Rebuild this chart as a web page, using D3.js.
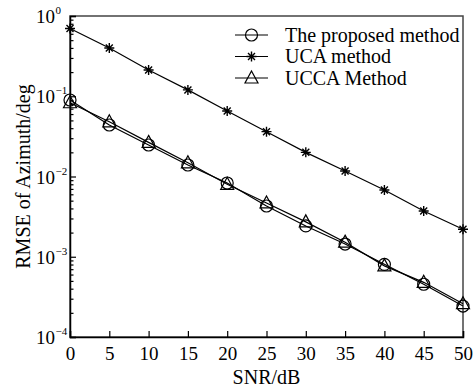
<!DOCTYPE html>
<html>
<head>
<meta charset="utf-8">
<script src="https://cdn.jsdelivr.net/npm/d3@7"></script>
<style>
  body { margin: 0; background: #fff; }
  text { font-family: "Liberation Serif", "Times New Roman", serif; fill: #000; }
</style>
</head>
<body>
<div id="chart"></div>
<script>
var snr = [0, 5, 10, 15, 20, 25, 30, 35, 40, 45, 50];
var proposed = [0.0898, 0.0438, 0.0247, 0.0139, 0.0083, 0.00429, 0.00242, 0.00144, 0.000805, 0.000454, 0.000243];
var uca = [0.70, 0.40, 0.212, 0.120, 0.0655, 0.0362, 0.0200, 0.0117, 0.00679, 0.00372, 0.00220];
var ucca = [0.083, 0.048, 0.0266, 0.0148, 0.0080, 0.00468, 0.00272, 0.00152, 0.00077, 0.00048, 0.00026];
var yDecades = [0, -1, -2, -3, -4];
var seriesNames = ['The proposed method', 'UCA method', 'UCCA Method'];

var width = 473, height = 387;
var margin = {left: 70, right: 10, top: 16, bottom: 50};

var x = d3.scaleLinear().domain([0, 50]).range([margin.left, width - margin.right]);
var y = d3.scaleLog().domain([1e-4, 1]).range([height - margin.bottom, margin.top]);

var svg = d3.select('#chart').append('svg')
    .attr('width', width)
    .attr('height', height);

// frame
svg.append('rect')
    .attr('x', x(0)).attr('y', y(1))
    .attr('width', x(50) - x(0)).attr('height', y(1e-4) - y(1))
    .attr('fill', 'none').attr('stroke', '#444').attr('stroke-width', 1.5);

// x axis
var xAxis = d3.axisBottom(x).tickValues(snr).tickSize(-6).tickPadding(10).tickFormat(d3.format('d'));
var gx = svg.append('g').attr('transform', 'translate(0,' + y(1e-4) + ')').call(xAxis);
gx.select('.domain').attr('stroke', '#000').attr('stroke-width', 1.5);
gx.selectAll('.tick line').attr('stroke', '#000').attr('stroke-width', 1.2);
gx.selectAll('.tick text').attr('font-size', 19).attr('font-family', 'Liberation Serif');

// y axis: minor ticks
var minor = [];
yDecades.slice(0, 4).forEach(function (p) {
    for (var k = 2; k <= 9; k++) minor.push(k * Math.pow(10, p - 1));
});
var yAxisMinor = d3.axisLeft(y).tickValues(minor).tickSize(-3.5).tickFormat('');
var gym = svg.append('g').attr('transform', 'translate(' + x(0) + ',0)').call(yAxisMinor);
gym.select('.domain').remove();
gym.selectAll('.tick line').attr('stroke', '#000').attr('stroke-width', 1.2);

var yAxis = d3.axisLeft(y).tickValues(yDecades.map(function (p) { return Math.pow(10, p); }))
    .tickSize(-6).tickFormat('');
var gy = svg.append('g').attr('transform', 'translate(' + x(0) + ',0)').call(yAxis);
gy.select('.domain').attr('stroke', '#000').attr('stroke-width', 1.5);
gy.selectAll('.tick line').attr('stroke', '#000').attr('stroke-width', 1.2);

// y tick labels as 10^p
var yl = svg.append('g').selectAll('g').data(yDecades).enter().append('g')
    .attr('transform', function (p) { return 'translate(55,' + y(Math.pow(10, p)) + ')'; });
yl.append('text').attr('x', 0).attr('y', 7).attr('text-anchor', 'end')
    .attr('font-size', 19).text('10');
yl.append('text').attr('x', 0.5).attr('y', -2).attr('font-size', 11)
    .text(function (p) { return p === 0 ? '0' : '\u2212' + (-p); });

// axis titles
svg.append('text').attr('x', (x(0) + x(50)) / 2).attr('y', 384)
    .attr('text-anchor', 'middle').attr('font-size', 20).text('SNR/dB');
svg.append('text').attr('transform', 'translate(30,' + ((y(1) + y(1e-4)) / 2) + ') rotate(-90)')
    .attr('text-anchor', 'middle').attr('font-size', 20).text('RMSE of Azimuth/deg');

// markers
function drawMarker(g, type) {
    if (type === 'circle') {
        g.append('circle').attr('r', 6).attr('fill', 'none').attr('stroke', '#000').attr('stroke-width', 1.2);
    } else if (type === 'star') {
        var s = 5;
        var path = 'M' + (-s) + ',0L' + s + ',0M0,' + (-s) + 'L0,' + s +
            'M' + (-s * 0.7) + ',' + (-s * 0.7) + 'L' + (s * 0.7) + ',' + (s * 0.7) +
            'M' + (-s * 0.7) + ',' + (s * 0.7) + 'L' + (s * 0.7) + ',' + (-s * 0.7);
        g.append('path').attr('d', path).attr('stroke', '#000').attr('stroke-width', 1.4).attr('fill', 'none');
    } else {
        g.append('path').attr('d', 'M0,-7L6.5,5L-6.5,5Z').attr('fill', 'none').attr('stroke', '#000').attr('stroke-width', 1.2);
    }
}

var series = [
    {name: seriesNames[0], values: proposed, marker: 'circle'},
    {name: seriesNames[1], values: uca, marker: 'star'},
    {name: seriesNames[2], values: ucca, marker: 'triangle'}
];

var line = d3.line()
    .x(function (d) { return x(d[0]); })
    .y(function (d) { return y(d[1]); });

series.forEach(function (s) {
    var pts = snr.map(function (v, i) { return [v, s.values[i]]; });
    svg.append('path').datum(pts).attr('d', line)
        .attr('fill', 'none').attr('stroke', '#000').attr('stroke-width', 1.2);
    svg.append('g').selectAll('g').data(pts).enter().append('g')
        .attr('transform', function (d) { return 'translate(' + x(d[0]) + ',' + y(d[1]) + ')'; })
        .each(function () { drawMarker(d3.select(this), s.marker); });
});

// legend
var legend = svg.append('g').attr('transform', 'translate(235,35)');
series.forEach(function (s, i) {
    var row = legend.append('g').attr('transform', 'translate(0,' + (i * 21.5) + ')');
    row.append('line').attr('x1', 0).attr('x2', 33).attr('y1', 0).attr('y2', 0)
        .attr('stroke', '#000').attr('stroke-width', 1.2);
    var m = row.append('g').attr('transform', 'translate(16.5,0)');
    drawMarker(m, s.marker);
    row.append('text').attr('x', 50).attr('y', 6.5).attr('font-size', 20).text(s.name);
});
</script>
</body>
</html>
